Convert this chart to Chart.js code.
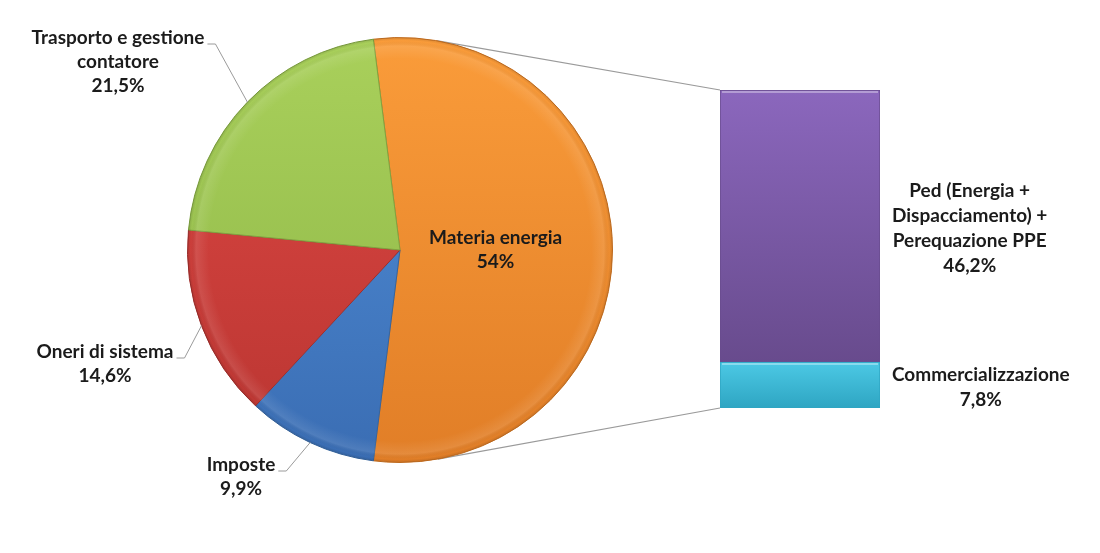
<!DOCTYPE html>
<html>
<head>
<meta charset="utf-8">
<script src="https://cdn.jsdelivr.net/npm/chart.js@4.4.1/dist/chart.umd.min.js"></script>
<style>
  html, body { margin: 0; padding: 0; background: #fff; }
  #wrap { position: relative; width: 1100px; height: 553px; background: #fff; }
  #wrap canvas { position: absolute; left: 0; top: 0; }
</style>
</head>
<body>
<div id="wrap">
  <canvas id="barchart" width="1100" height="553"></canvas>
  <canvas id="piechart" width="1100" height="553"></canvas>
</div>
<script>
// pie data
const pieLabels = [
  ['Materia energia'],
  ['Imposte'],
  ['Oneri di sistema'],
  ['Trasporto e gestione', 'contatore']
];
const pieValues = [54, 9.9, 14.6, 21.5];

// bar data (bottom to top)
const barLabels = [
  ['Commercializzazione'],
  ['Ped (Energia +', 'Dispacciamento) +', 'Perequazione PPE']
];
const barValues = [7.8, 46.2];

const pieLight = ['#FA9C3A', '#5290DA', '#DE4844', '#A9D05B'];
const pieDark  = ['#E17E27', '#3A6DB3', '#B93531', '#8DB546'];
const pieEdge  = ['#C87020', '#34649F', '#A02E2B', '#7FA340'];
const barLight = ['#4CC9E5', '#8B67BD'];
const barDark  = ['#2EA5C2', '#684B8D'];

const FONT = 'bold 19px Lato, "Open Sans", sans-serif';
const TEXT = '#1b1b1b';
const LINE = '#9a9a9a';

const fmt = v => String(v).replace('.', ',') + '%';
const pieTotal = pieValues.reduce((a, b) => a + b, 0);
const barTotal = barValues.reduce((a, b) => a + b, 0);

// outside label spots for the small slices (text centre of first line)
const outsidePos = [null, { x: 241, y: 465 }, { x: 105, y: 352 }, { x: 118, y: 38 }];
const LH = 24;

function vGrad(ctx, top, bottom, c1, c2) {
  const g = ctx.createLinearGradient(0, top, 0, bottom);
  g.addColorStop(0, c1);
  g.addColorStop(1, c2);
  return g;
}

const pieLabelPlugin = {
  id: 'pieLabels',
  afterDatasetsDraw(chart) {
    const ctx = chart.ctx;
    const arcs = chart.getDatasetMeta(0).data;
    ctx.save();
    // rim bevel
    const a0 = arcs[0];
    const rg = ctx.createRadialGradient(a0.x, a0.y, a0.outerRadius * 0.9, a0.x, a0.y, a0.outerRadius);
    rg.addColorStop(0, 'rgba(255,255,255,0)');
    rg.addColorStop(0.6, 'rgba(255,255,255,0.10)');
    rg.addColorStop(0.85, 'rgba(0,0,0,0)');
    rg.addColorStop(1, 'rgba(0,0,0,0.12)');
    ctx.fillStyle = rg;
    ctx.beginPath();
    ctx.arc(a0.x, a0.y, a0.outerRadius, 0, Math.PI * 2);
    ctx.fill();

    ctx.font = FONT;
    ctx.fillStyle = TEXT;
    ctx.textAlign = 'center';
    ctx.textBaseline = 'middle';
    arcs.forEach((arc, i) => {
      const lines = pieLabels[i].concat([fmt(pieValues[i])]);
      const mid = (arc.startAngle + arc.endAngle) / 2;
      if (!outsidePos[i]) {
        const cx = arc.x + Math.cos(mid) * arc.outerRadius * 0.45;
        const cy = arc.y + Math.sin(mid) * arc.outerRadius * 0.45;
        const y0 = cy - (lines.length - 1) * LH / 2;
        lines.forEach((t, k) => ctx.fillText(t, cx, y0 + k * LH));
        return;
      }
      const p = outsidePos[i];
      lines.forEach((t, k) => ctx.fillText(t, p.x, p.y + k * LH));
      // leader line
      const w = ctx.measureText(lines[0]).width;
      const sx = p.x + w / 2 + 3;
      const ly = p.y + 6;
      const ex = arc.x + Math.cos(mid) * arc.outerRadius;
      const ey = arc.y + Math.sin(mid) * arc.outerRadius;
      ctx.strokeStyle = LINE;
      ctx.lineWidth = 1;
      ctx.beginPath();
      ctx.moveTo(sx, ly);
      ctx.lineTo(sx + 8, ly);
      ctx.lineTo(ex, ey);
      ctx.stroke();
    });
    ctx.restore();
  }
};

const pieChart = new Chart(document.getElementById('piechart'), {
  type: 'pie',
  data: {
    labels: pieLabels,
    datasets: [{
      data: pieValues,
      backgroundColor: (c) => {
        const area = c.chart.chartArea;
        if (!area) return pieLight[c.dataIndex];
        return vGrad(c.chart.ctx, area.top, area.bottom, pieLight[c.dataIndex], pieDark[c.dataIndex]);
      },
      borderColor: pieEdge,
      borderWidth: 1
    }]
  },
  options: {
    responsive: false,
    animation: false,
    rotation: 90 - pieValues[0] / pieTotal * 180,
    layout: { padding: { left: 187, right: 487, top: 37, bottom: 90 } },
    plugins: { legend: { display: false }, tooltip: { enabled: false } }
  },
  plugins: [pieLabelPlugin]
});

// tangent point from external point (px,py) to circle
function tangent(cx, cy, r, px, py, side) {
  const dx = px - cx, dy = py - cy;
  const d = Math.hypot(dx, dy);
  const base = Math.atan2(dy, dx);
  const off = Math.acos(r / d);
  const a = base + side * off;
  return { x: cx + r * Math.cos(a), y: cy + r * Math.sin(a) };
}

const barPlugin = {
  id: 'barExtras',
  beforeDatasetsDraw(chart) {
    const ctx = chart.ctx;
    const arc = pieChart.getDatasetMeta(0).data[0];
    const bars = chart.data.datasets.map((d, i) => chart.getDatasetMeta(i).data[0]);
    const top = bars[bars.length - 1];
    const bot = bars[0];
    const left = top.x - top.width / 2;
    const r = arc.outerRadius;
    const t1 = tangent(arc.x, arc.y, r, left, top.y, -1);
    const t2 = tangent(arc.x, arc.y, r, left, bot.base, 1);
    ctx.save();
    ctx.strokeStyle = LINE;
    ctx.lineWidth = 1.2;
    ctx.beginPath();
    ctx.moveTo(t1.x, t1.y);
    ctx.lineTo(left, top.y);
    ctx.moveTo(t2.x, t2.y);
    ctx.lineTo(left, bot.base);
    ctx.stroke();
    ctx.restore();
  },
  afterDatasetsDraw(chart) {
    // light bevel along the top of each segment
    const ctx = chart.ctx;
    ctx.save();
    chart.data.datasets.forEach((d, i) => {
      const bar = chart.getDatasetMeta(i).data[0];
      const l = bar.x - bar.width / 2, r = bar.x + bar.width / 2;
      ctx.strokeStyle = 'rgba(255,255,255,0.35)';
      ctx.lineWidth = 2;
      ctx.beginPath();
      ctx.moveTo(l + 2, bar.y + 2);
      ctx.lineTo(r - 2, bar.y + 2);
      ctx.stroke();
    });
    ctx.restore();
  },
  afterDraw(chart) {
    const ctx = chart.ctx;
    ctx.save();
    ctx.font = FONT;
    ctx.fillStyle = TEXT;
    ctx.textAlign = 'center';
    ctx.textBaseline = 'middle';
    chart.data.datasets.forEach((d, i) => {
      const bar = chart.getDatasetMeta(i).data[0];
      const lines = barLabels[i].concat([fmt(barValues[i])]);
      const maxW = Math.max(...lines.map(t => ctx.measureText(t).width));
      const cx = bar.x + bar.width / 2 + 12 + maxW / 2;
      const cy = (bar.y + bar.base) / 2 + 2;
      const y0 = cy - (lines.length - 1) * (LH + 1) / 2;
      lines.forEach((t, k) => ctx.fillText(t, cx, y0 + k * (LH + 1)));
    });
    ctx.restore();
  }
};

new Chart(document.getElementById('barchart'), {
  type: 'bar',
  data: {
    labels: ['Materia energia'],
    datasets: barValues.map((v, i) => ({
      label: barLabels[i].join(' '),
      data: [v],
      backgroundColor: (c) => {
        const y = c.chart.scales.y;
        if (!y || !c.chart.chartArea) return barLight[i];
        const lo = barValues.slice(0, i).reduce((a, b) => a + b, 0);
        return vGrad(c.chart.ctx, y.getPixelForValue(lo + v), y.getPixelForValue(lo), barLight[i], barDark[i]);
      },
      borderColor: barDark[i],
      borderWidth: 1,
      borderSkipped: false,
      barPercentage: 1,
      categoryPercentage: 1
    }))
  },
  options: {
    responsive: false,
    animation: false,
    layout: { padding: { left: 720, right: 220, top: 90, bottom: 145 } },
    scales: {
      x: { display: false, stacked: true },
      y: { display: false, stacked: true, min: 0, max: barTotal }
    },
    plugins: { legend: { display: false }, tooltip: { enabled: false } }
  },
  plugins: [barPlugin]
});
</script>
</body>
</html>
